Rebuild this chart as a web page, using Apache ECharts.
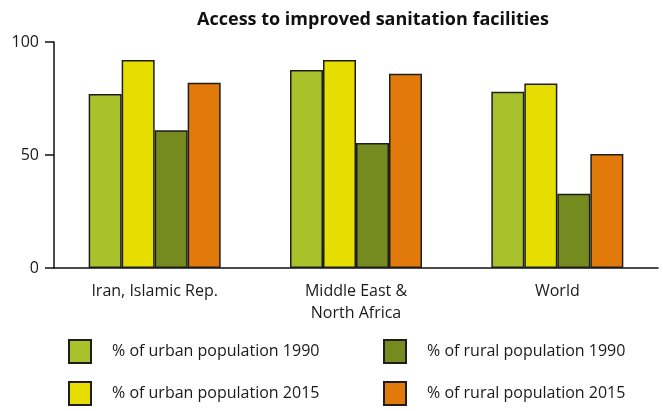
<!DOCTYPE html>
<html>
<head>
<meta charset="utf-8">
<script src="https://cdn.jsdelivr.net/npm/echarts@6/dist/echarts.min.js"></script>
<style>html,body{margin:0;padding:0;background:#fff;}#c{width:663px;height:411px;}</style>
</head>
<body>
<div id="c"></div>
<script>
const categories = ['Iran, Islamic Rep.', 'Middle East &\nNorth Africa', 'World'];
const urban1990 = [77, 87.6, 78];
const urban2015 = [92, 92, 81.6];
const rural1990 = [61, 55.3, 32.8];
const rural2015 = [82, 86, 50.4];
const yTicks = [0, 50, 100];
const seriesNames = ['% of urban population 1990', '% of urban population 2015', '% of rural population 1990', '% of rural population 2015'];
const colors = ['#a9c12b', '#e6de00', '#758a1f', '#e27a0b'];

const font = 'Open Sans';
const chart = echarts.init(document.getElementById('c'), null, {renderer: 'canvas'});
const mk = (name, data, color) => ({
  name, type: 'bar', data, barWidth: 33, barGap: '0%',
  itemStyle: {color, borderColor: '#1e1e1e', borderWidth: 1.5},
  emphasis: {disabled: true}
});
const legendPos = [[68, 339], [68, 381], [383, 339], [383, 381]];
const legends = seriesNames.map((n, i) => ({
  data: [n], left: legendPos[i][0], top: legendPos[i][1], padding: 0,
  icon: 'rect', itemWidth: 22, itemHeight: 23, selectedMode: false,
  textStyle: {fontFamily: font, fontSize: 16, color: '#1a1a1a', padding: [0, 0, 0, 16]}
}));
chart.setOption({
  animation: false,
  title: {
    text: 'Access to improved sanitation facilities',
    left: 368, textAlign: 'center', top: 6,
    textStyle: {fontFamily: font, fontWeight: 'bold', fontSize: 18, color: '#111'}
  },
  legend: legends,
  grid: {left: 54, top: 42, width: 604, height: 226, containLabel: false},
  xAxis: {
    type: 'category', data: categories,
    axisLine: {lineStyle: {color: '#111', width: 1.5}},
    axisTick: {show: false},
    axisLabel: {fontFamily: font, fontSize: 16, color: '#1a1a1a', margin: 12, lineHeight: 22, interval: 0}
  },
  yAxis: {
    type: 'value', min: yTicks[0], max: yTicks[yTicks.length - 1], interval: 50,
    axisLine: {show: true, lineStyle: {color: '#111', width: 1.5}},
    axisTick: {show: true, length: 9, lineStyle: {color: '#111', width: 1.5}},
    splitLine: {show: false},
    axisLabel: {fontFamily: font, fontSize: 16, color: '#1a1a1a', margin: 15}
  },
  series: [
    mk(seriesNames[0], urban1990, colors[0]),
    mk(seriesNames[1], urban2015, colors[1]),
    mk(seriesNames[2], rural1990, colors[2]),
    mk(seriesNames[3], rural2015, colors[3])
  ]
});
</script>
</body>
</html>
